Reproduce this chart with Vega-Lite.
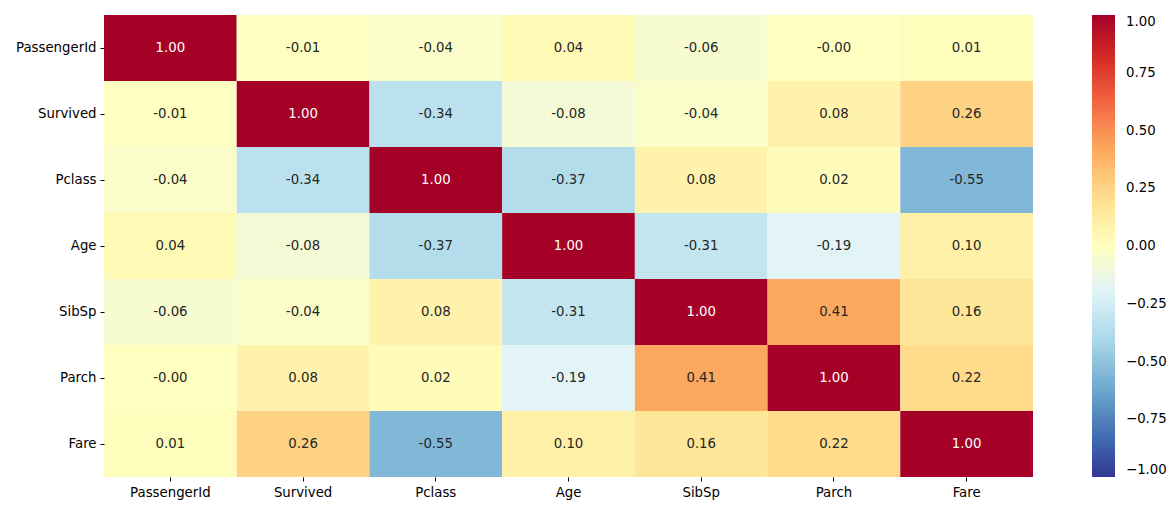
{
  "$schema": "https://vega.github.io/schema/vega-lite/v6.json",
  "autosize": {"type": "none"},
  "width": 929,
  "height": 462,
  "padding": {"left": 104, "top": 15, "right": 143, "bottom": 34},
  "background": "white",
  "config": {
    "view": {"stroke": null},
    "font": "DejaVu Sans",
    "axis": {"labelFont": "DejaVu Sans", "labelFontSize": 13.3, "labelColor": "#000000", "tickColor": "#000000", "tickSize": 4, "tickWidth": 1, "domain": false, "grid": false, "title": null, "labelPadding": 4},
    "legend": {"labelFont": "DejaVu Sans", "labelFontSize": 13.3, "labelColor": "#000000", "padding": 0}
  },
  "data": {
    "values": [
      {"x": "PassengerId", "y": "PassengerId", "v": 1.0, "label": "1.00"},
      {"x": "Survived", "y": "PassengerId", "v": -0.005, "label": "-0.01"},
      {"x": "Pclass", "y": "PassengerId", "v": -0.035, "label": "-0.04"},
      {"x": "Age", "y": "PassengerId", "v": 0.037, "label": "0.04"},
      {"x": "SibSp", "y": "PassengerId", "v": -0.058, "label": "-0.06"},
      {"x": "Parch", "y": "PassengerId", "v": -0.002, "label": "-0.00"},
      {"x": "Fare", "y": "PassengerId", "v": 0.013, "label": "0.01"},

      {"x": "PassengerId", "y": "Survived", "v": -0.005, "label": "-0.01"},
      {"x": "Survived", "y": "Survived", "v": 1.0, "label": "1.00"},
      {"x": "Pclass", "y": "Survived", "v": -0.338, "label": "-0.34"},
      {"x": "Age", "y": "Survived", "v": -0.077, "label": "-0.08"},
      {"x": "SibSp", "y": "Survived", "v": -0.035, "label": "-0.04"},
      {"x": "Parch", "y": "Survived", "v": 0.082, "label": "0.08"},
      {"x": "Fare", "y": "Survived", "v": 0.257, "label": "0.26"},

      {"x": "PassengerId", "y": "Pclass", "v": -0.035, "label": "-0.04"},
      {"x": "Survived", "y": "Pclass", "v": -0.338, "label": "-0.34"},
      {"x": "Pclass", "y": "Pclass", "v": 1.0, "label": "1.00"},
      {"x": "Age", "y": "Pclass", "v": -0.369, "label": "-0.37"},
      {"x": "SibSp", "y": "Pclass", "v": 0.083, "label": "0.08"},
      {"x": "Parch", "y": "Pclass", "v": 0.018, "label": "0.02"},
      {"x": "Fare", "y": "Pclass", "v": -0.549, "label": "-0.55"},

      {"x": "PassengerId", "y": "Age", "v": 0.037, "label": "0.04"},
      {"x": "Survived", "y": "Age", "v": -0.077, "label": "-0.08"},
      {"x": "Pclass", "y": "Age", "v": -0.369, "label": "-0.37"},
      {"x": "Age", "y": "Age", "v": 1.0, "label": "1.00"},
      {"x": "SibSp", "y": "Age", "v": -0.308, "label": "-0.31"},
      {"x": "Parch", "y": "Age", "v": -0.189, "label": "-0.19"},
      {"x": "Fare", "y": "Age", "v": 0.096, "label": "0.10"},

      {"x": "PassengerId", "y": "SibSp", "v": -0.058, "label": "-0.06"},
      {"x": "Survived", "y": "SibSp", "v": -0.035, "label": "-0.04"},
      {"x": "Pclass", "y": "SibSp", "v": 0.083, "label": "0.08"},
      {"x": "Age", "y": "SibSp", "v": -0.308, "label": "-0.31"},
      {"x": "SibSp", "y": "SibSp", "v": 1.0, "label": "1.00"},
      {"x": "Parch", "y": "SibSp", "v": 0.415, "label": "0.41"},
      {"x": "Fare", "y": "SibSp", "v": 0.160, "label": "0.16"},

      {"x": "PassengerId", "y": "Parch", "v": -0.002, "label": "-0.00"},
      {"x": "Survived", "y": "Parch", "v": 0.082, "label": "0.08"},
      {"x": "Pclass", "y": "Parch", "v": 0.018, "label": "0.02"},
      {"x": "Age", "y": "Parch", "v": -0.189, "label": "-0.19"},
      {"x": "SibSp", "y": "Parch", "v": 0.415, "label": "0.41"},
      {"x": "Parch", "y": "Parch", "v": 1.0, "label": "1.00"},
      {"x": "Fare", "y": "Parch", "v": 0.216, "label": "0.22"},

      {"x": "PassengerId", "y": "Fare", "v": 0.013, "label": "0.01"},
      {"x": "Survived", "y": "Fare", "v": 0.257, "label": "0.26"},
      {"x": "Pclass", "y": "Fare", "v": -0.549, "label": "-0.55"},
      {"x": "Age", "y": "Fare", "v": 0.096, "label": "0.10"},
      {"x": "SibSp", "y": "Fare", "v": 0.160, "label": "0.16"},
      {"x": "Parch", "y": "Fare", "v": 0.216, "label": "0.22"},
      {"x": "Fare", "y": "Fare", "v": 1.0, "label": "1.00"}
    ]
  },
  "encoding": {
    "x": {"field": "x", "type": "nominal", "sort": null, "scale": {"paddingInner": 0, "paddingOuter": 0}, "axis": {"labelAngle": 0}},
    "y": {"field": "y", "type": "nominal", "sort": null, "scale": {"paddingInner": 0, "paddingOuter": 0}}
  },
  "layer": [
    {
      "mark": {"type": "rect", "strokeWidth": 0},
      "encoding": {
        "color": {
          "field": "v",
          "type": "quantitative",
          "scale": {
            "type": "linear",
            "domain": [-1, -0.8, -0.6, -0.4, -0.2, 0, 0.2, 0.4, 0.6, 0.8, 1],
            "range": ["#313695", "#4575b4", "#74add1", "#abd9e9", "#e0f3f8", "#ffffbf", "#fee090", "#fdae61", "#f46d43", "#d73027", "#a50026"],
            "interpolate": "rgb"
          },
          "legend": {
            "title": null,
            "orient": "right",
            "offset": 59,
            "direction": "vertical",
            "gradientLength": 462,
            "gradientThickness": 23,
            "gradientStrokeWidth": 0,
            "values": [-1, -0.75, -0.5, -0.25, 0, 0.25, 0.5, 0.75, 1],
            "labelExpr": "replace(format(datum.value, '.2f'), '-', '\u2212')",
            "labelBaseline": "middle",
            "labelAlign": "left",
            "labelOffset": 11,
            "labelOverlap": false
          }
        }
      }
    },
    {
      "mark": {"type": "text", "fontSize": 13.3, "font": "DejaVu Sans"},
      "encoding": {
        "text": {"field": "label", "type": "nominal"},
        "color": {
          "condition": {"test": "datum.v > 0.9", "value": "#ffffff"},
          "value": "#262626"
        }
      }
    }
  ]
}
